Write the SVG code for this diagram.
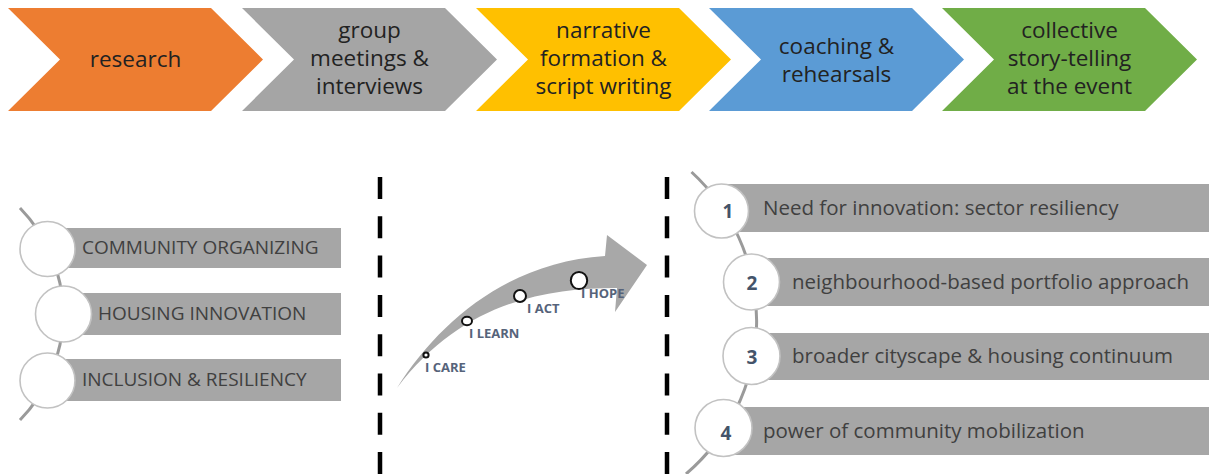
<svg xmlns="http://www.w3.org/2000/svg" width="1209" height="474" viewBox="0 0 1209 474">
  <style>
    .step { font-family: "Open Sans", "Liberation Sans", sans-serif; font-size: 22.5px; fill: #222222; text-anchor: middle; }
    .bar { fill: #a6a6a6; }
    .bead { fill: #ffffff; stroke: #c2c2c2; stroke-width: 1.6; }
    .cap { font-family: "Open Sans", "Liberation Sans", sans-serif; font-size: 19px; fill: #404040; }
    .item { font-family: "Open Sans", "Liberation Sans", sans-serif; font-size: 20.5px; fill: #404040; }
    .num { font-family: "Open Sans", "Liberation Sans", sans-serif; font-size: 19px; font-weight: bold; fill: #44546a; text-anchor: middle; }
    .stage { font-family: "Open Sans", "Liberation Sans", sans-serif; font-size: 13px; font-weight: bold; fill: #56637a; }
    .dot { fill: #ffffff; stroke: #111111; stroke-width: 2; }
    .divider { stroke: #000000; stroke-width: 4.5; stroke-dasharray: 22 17.3; fill: none; }
    .spine { stroke: #9a9a9a; stroke-width: 3; fill: none; }
  </style>

  <!-- process chevrons -->
  <g id="step-research">
    <polygon points="8,8 211,8 263,59.5 211,111 8,111 60,59.5" fill="#ed7d31"/>
    <text class="step" x="135.5" y="67">research</text>
  </g>
  <g id="step-meetings">
    <polygon points="242,8 445,8 497,59.5 445,111 242,111 294,59.5" fill="#a5a5a5"/>
    <text class="step" x="369.5" y="38">group</text>
    <text class="step" x="369.5" y="66">meetings &amp;</text>
    <text class="step" x="369.5" y="94">interviews</text>
  </g>
  <g id="step-narrative">
    <polygon points="476,8 679,8 731,59.5 679,111 476,111 528,59.5" fill="#ffc000"/>
    <text class="step" x="603.5" y="38">narrative</text>
    <text class="step" x="603.5" y="66">formation &amp;</text>
    <text class="step" x="603.5" y="94">script writing</text>
  </g>
  <g id="step-coaching">
    <polygon points="709,8 912,8 964,59.5 912,111 709,111 761,59.5" fill="#5b9bd5"/>
    <text class="step" x="836.5" y="54">coaching &amp;</text>
    <text class="step" x="836.5" y="82">rehearsals</text>
  </g>
  <g id="step-storytelling">
    <polygon points="942,8 1145,8 1197,59.5 1145,111 942,111 994,59.5" fill="#70ad47"/>
    <text class="step" x="1069.5" y="38">collective</text>
    <text class="step" x="1069.5" y="66">story-telling</text>
    <text class="step" x="1069.5" y="94">at the event</text>
  </g>

  <!-- connectors: bead spines and dashed dividers -->
  <g id="connectors">
    <path class="spine" d="M 20 208 A 152 152 0 0 1 20 420"/>
    <path class="spine" d="M 691.5 172 A 202 202 0 0 1 686 474"/>
    <line class="divider" x1="380" y1="177" x2="380" y2="474"/>
    <line class="divider" x1="667" y1="177" x2="667" y2="474"/>
  </g>

  <!-- left list: themes -->
  <g id="theme-community">
    <rect class="bar" x="48" y="228" width="293" height="40"/>
    <circle class="bead" cx="47.5" cy="249" r="27.5"/>
    <text class="cap" x="82" y="254">COMMUNITY ORGANIZING</text>
  </g>
  <g id="theme-housing">
    <rect class="bar" x="64" y="293" width="277" height="42"/>
    <circle class="bead" cx="63.5" cy="314" r="28"/>
    <text class="cap" x="98" y="320">HOUSING INNOVATION</text>
  </g>
  <g id="theme-inclusion">
    <rect class="bar" x="48" y="359" width="293" height="42"/>
    <circle class="bead" cx="47.5" cy="380.5" r="27.5"/>
    <text class="cap" x="82" y="386">INCLUSION &amp; RESILIENCY</text>
  </g>

  <!-- centre: engagement arrow -->
  <g id="engagement-arrow">
    <path d="M 397 388 C 440 320, 510 262, 605 256 L 607 235 L 647 265 L 615 312 L 617 288 C 540 288, 460 305, 397 388 Z" fill="#a8a8a8"/>
    <circle class="dot" cx="426" cy="355" r="2.6" stroke-width="1.6"/>
    <ellipse class="dot" cx="467" cy="321" rx="5" ry="4.2"/>
    <circle class="dot" cx="520" cy="296" r="6"/>
    <ellipse class="dot" cx="579" cy="280.5" rx="8.2" ry="8.6"/>
    <text class="stage" x="425" y="372">I CARE</text>
    <text class="stage" x="469" y="338">I LEARN</text>
    <text class="stage" x="527" y="313">I ACT</text>
    <text class="stage" x="581" y="298">I HOPE</text>
  </g>

  <!-- right list: findings -->
  <g id="finding-1">
    <rect class="bar" x="722" y="184" width="487" height="48"/>
    <circle class="bead" cx="721.5" cy="211" r="27"/>
    <text class="num" x="728" y="218">1</text>
    <text class="item" x="763" y="215">Need for innovation: sector resiliency</text>
  </g>
  <g id="finding-2">
    <rect class="bar" x="752" y="258" width="457" height="48"/>
    <circle class="bead" cx="751.5" cy="282" r="28"/>
    <text class="num" x="752" y="290">2</text>
    <text class="item" x="792" y="289">neighbourhood-based portfolio approach</text>
  </g>
  <g id="finding-3">
    <rect class="bar" x="752" y="333" width="457" height="47"/>
    <circle class="bead" cx="751.5" cy="356" r="28.5"/>
    <text class="num" x="752" y="364">3</text>
    <text class="item" x="792" y="363">broader cityscape &amp; housing continuum</text>
  </g>
  <g id="finding-4">
    <rect class="bar" x="723" y="407" width="486" height="48"/>
    <circle class="bead" cx="723.5" cy="428" r="28.5"/>
    <text class="num" x="726" y="440">4</text>
    <text class="item" x="763" y="438">power of community mobilization</text>
  </g>
</svg>
